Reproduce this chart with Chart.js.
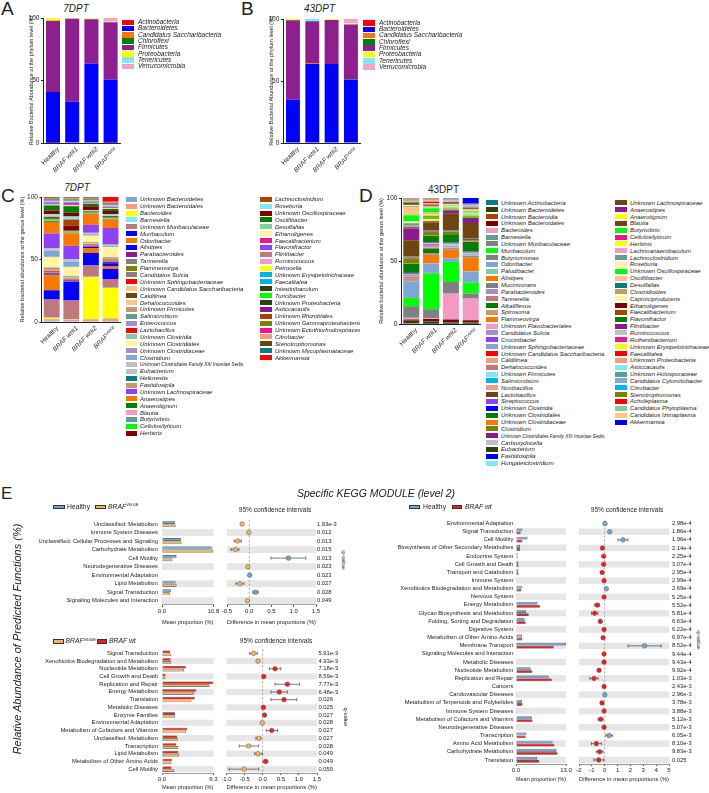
<!DOCTYPE html>
<html><head><meta charset="utf-8">
<script src="https://cdn.jsdelivr.net/npm/chart.js@4.4.1/dist/chart.umd.min.js"></script>
<style>
html,body{margin:0;padding:0;background:#fff;}
body{width:709px;height:793px;position:relative;overflow:hidden;font-family:"Liberation Sans",Arial,sans-serif;color:#222;}
.sup{font-size:0.6em;position:relative;top:-0.55em;}
</style></head><body>
<script>
// ---------------- DATA ----------------
const groups = ["Healthy","BRAF wt#1","BRAF wt#2","BRAF V600E"];
const yTicks = [0,50,100];

const phyla = ["Actinobacteria","Bacteroidetes","Candidatus Saccharibacteria","Chloroflexi","Firmicutes","Proteobacteria","Tenericutes","Verrucomicrobia"];
const a7Healthy = [0.3,40.5,0,0,57,2,0.2,0];
const a7Wt1 = [0,33,0,0,66.4,0.3,0.3,0];
const a7Wt2 = [0,63.5,0,0,35.5,0.6,0.2,0.2];
const a7Mut = [0.3,50.3,0,0,46,0.7,0,2.7];
const b43Healthy = [0,35,0,0,64,1,0,0];
const b43Wt1 = [0,63.8,0.7,0,33.7,0,1.8,0];
const b43Wt2 = [0,63.8,0,0,35.3,0.7,0.2,0];
const b43Mut = [0,51,0,0.5,44,0.7,0.3,3.5];

const c7Genera = ["Unknown Bacteroidetes","Unknown Bacteroidales","Bacteroides","Barnesiella","Unknown Muribaculaceae","Muribaculum","Odoribacter","Alistipes","Parabacteroides","Tannerella","Flammeovirga","Candidatus Sulcia","Unknown Sphingobacteriaceae","Unknown Candidatus Saccharibacteria","Caldilinea","Dehalococcoides","Unknown Firmicutes","Salimicrobium","Enterococcus","Lactobacillus","Unknown Clostridia","Unknown Clostridiales","Unknown Clostridiaceae","Clostridium","Unknown Clostridiales Family XIII Incertae Sedis","Eubacterium","Heliorestis","Fastidiosipila","Unknown Lachnospiraceae","Anaerostipes","Anaerotignum","Blautia","Butyrivibrio","Cellulosilyticum","Herbinix","Lachnoclostridium","Roseburia","Unknown Oscillospiraceae","Oscillibacter","Desulfallas","Ethanoligenes","Faecalibacterium","Flavonifractor","Flintibacter","Ruminococcus","Petrocella","Unknown Erysipelotrichaceae","Faecalitalea","Intestinibaculum","Turicibacter","Unknown Proteobacteria","Asticcacaulis","Unknown Rhizobiales","Unknown Gammaproteobacteria","Unknown Ectothiorhodospiraceae","Citrobacter","Stenotrophomonas","Unknown Mycoplasmataceae","Akkermansia"];
const c7Healthy = [1.3,1,1,0.3,14.4,7.5,12,0.5,1,0.3,0.2,0.3,0.8,0.3,0.2,0.5,0.3,0.5,0.3,0.3,0.8,8,0.5,4.5,1.5,0.5,0.2,0.3,11.5,9.3,0.6,0.3,0.3,1,0.5,1.5,2,3,4,0.3,0.5,0.5,1,0.5,0.5,0.3,0.3,0.3,0.2,0.2,0.3,0.2,0.2,0.2,0.2,0.3,0.5,0.2,0];
const c7Wt1 = [0.8,1,0.3,0.2,15,14.7,0.3,0.3,0.8,0.3,0.2,0.2,0.3,0.2,0.5,0.3,0.5,0.3,0.3,0.2,0.3,7,0.5,4,1,0.5,0.2,0.3,10.5,10,0.5,0.5,0.5,0.5,4,5,2.5,3,5.2,0.3,0.5,0.8,1.2,0.5,0.5,0.3,0.3,0.3,0.2,0.3,0.2,0.2,0.2,0.2,0.2,0.3,0.5,0.2,0.1];
const c7Wt2 = [0.8,1.5,33.6,0.3,9,10,4,1,0.5,0.3,0.2,0.3,0.5,0.3,0.2,0.3,0.3,0.3,0.2,0.2,0.3,5,0.3,0.8,0.5,0.3,0.2,0.2,6.5,8.5,0.3,0.3,0.3,0.3,0.5,0.5,1,3,2,0.3,0.3,0.5,0.5,0.3,0.3,0.3,0.3,0.3,0.2,0.2,0.2,0.2,0.2,0.2,0.2,0.2,0.3,0.2,0.2];
const c7Mut = [0.8,2,24.4,0.3,7,8,2,2.5,1,0.5,0.3,0.3,0.3,0.3,0.3,0.5,0.5,0.3,0.2,0.2,0.3,8,0.3,0.8,0.5,0.3,0.2,0.2,13,6.5,0.5,0.3,0.3,0.5,0.5,1,1.5,2.5,1.5,0.3,0.3,0.5,0.5,0.5,0.5,0.3,0.3,0.3,0.2,0.2,0.3,0.2,0.2,0.2,0.3,0.3,0.5,0.2,3.5];

const d43Genera = ["Unknown Actinobacteria","Unknown Bacteroidetes","Unknown Bacteroidia","Unknown Bacteroidales","Bacteroides","Barnesiella","Unknown Muribaculaceae","Muribaculum","Butyricimonas","Odoribacter","Paludibacter","Alistipes","Mucinivorans","Parabacteroides","Tannerella","Alkaliflexus","Spirosoma","Flammeovirga","Unknown Flavobacteriales","Candidatus Sulcia","Crocinibacter","Unknown Sphingobacteriaceae","Unknown Candidatus Saccharibacteria","Caldilinea","Dehalococcoides","Unknown Firmicutes","Salimicrobium","Novibacillus","Lactobacillus","Streptococcus","Unknown Clostridia","Unknown Clostridiales","Unknown Clostridiaceae","Clostridium","Unknown Clostridiales Family XIII Incertae Sedis","Carboxydocella","Eubacterium","Fastidiosipila","Hungateiclostridium","Unknown Lachnospiraceae","Anaerostipes","Anaerotignum","Blautia","Butyrivibrio","Cellulosilyticum","Herbinix","Lachnoanaerobaculum","Lachnoclostridium","Roseburia","Unknown Oscillospiraceae","Oscillibacter","Desulfallas","Clostridioides","Caproiciproducens","Ethanoligenes","Faecalibacterium","Flavonifractor","Flintibacter","Ruminococcus","Ruthenibacterium","Unknown Erysipelotrichaceae","Faecalitalea","Unknown Proteobacteria","Asticcacaulis","Unknown Holosporaceae","Candidatus Cytomitobacter","Citrobacter","Stenotrophomonas","Acholeplasma","Candidatus Phytoplasma","Candidatus Izimaplasma","Akkermansia"];
const d43Healthy = [0.3,2,0.3,1,1,0.5,9,6.5,0.3,13,0.3,0.5,0.3,1,0.8,0.3,0.2,0.2,0.2,0.2,0.2,0.2,0.3,0.2,0.2,0.3,0.2,0.2,0.2,0.2,0.5,7.3,0.3,4,0.3,0.2,0.3,0.2,0.2,13,9.5,0.3,0.5,0.3,0.3,0.3,0.3,2,1.5,5,6.5,0.2,0.3,1,0.3,0.5,1,0.5,0.3,0.3,0.3,0.3,0.2,0.2,0.2,0.2,0.2,0.3,0.2,0.2,0.2,0.2];
const d43Wt1 = [0.2,1.5,0.3,2,0.5,0.3,7,28.5,0.3,7.5,0.2,6.5,0.3,0.5,0.3,4,0.2,0.5,0.5,0.5,0.8,0.3,0.3,0.2,0.3,0.3,0.2,0.2,0.3,0.2,0.3,5,0.5,2.5,0.5,0.2,0.2,0.2,0.2,6.3,1,1.5,0.5,1.5,0.8,1.5,0.5,0.5,0.5,3,0.8,0.2,0.3,0.3,0.3,0.3,0.5,0.3,0.3,0.3,0.5,1,1,0.3,0.2,0.2,0.2,0.2,0.3,0.2,0.2,0.2];
const d43Wt2 = [0.2,1,0.3,2,20.5,0.3,9,16,0.3,2.5,0.2,6.5,0.3,0.5,0.3,0.5,0.2,0.2,0.3,0.2,0.2,0.3,0.2,0.2,0.2,1,0.3,0.2,0.3,0.2,0.3,6.5,0.3,1.7,0.3,0.2,0.2,0.2,0.2,13.5,2.5,0.3,0.5,0.5,0.3,0.3,0.3,0.3,0.5,0.5,0.5,0.2,0.2,0.5,0.3,0.3,0.5,0.5,0.2,0.2,0.2,0.2,0.2,0.2,0.2,0.5,0.2,0.2,0.2,0.2,0.2,0.3];
const d43Mut = [0.2,1,0.3,1.5,17,0.3,4,8.5,0.2,8.7,0.2,10.5,0.3,0.3,0.2,0.3,0.2,0.2,0.3,0.2,0.2,0.3,0.2,0.2,0.2,0.8,0.3,0.2,0.3,0.2,0.3,7.5,0.3,0.5,0.3,0.2,0.8,0.2,0.2,12.5,4,0.3,0.5,1,0.3,0.5,0.3,0.5,0.8,1,1,0.2,0.3,0.5,0.3,0.3,0.3,0.3,0.5,0.2,0.2,0.2,0.2,0.2,0.2,0.3,0.2,0.2,0.2,0.2,0.2,4.5];

// KEGG level-2 comparisons
const e1Labels = ["Unclassified: Metabolism","Immune System Diseases","Unclassified: Cellular Processes and Signaling","Carbohydrate Metabolism","Cell Motility","Neurodegenerative Diseases","Environmental Adaptation","Lipid Metabolism","Signal Transduction","Signaling Molecules and Interaction"];
const e1Healthy = [2.7,0.1,3.95,10.4,3.05,0.1,0.1,2.85,1.9,0.05];
const e1Mut = [2.85,0.1,4.1,10.7,2.2,0.1,0.1,3.05,1.65,0.05];
const e1Diff = [-0.16,-0.01,-0.26,-0.31,0.88,-0.03,0.01,-0.21,0.14,-0.04];
const e1Lo = [-0.19,-0.02,-0.34,-0.41,0.49,-0.04,0.0,-0.30,0.08,-0.05];
const e1Hi = [-0.13,0.0,-0.18,-0.23,1.27,-0.02,0.02,-0.12,0.20,-0.03];
const e1Q = ["1.93e-3","0.012","0.013","0.015","0.013","0.023","0.023","0.027","0.028","0.049"];
const e1MeanMax = 10.8;
const e1DiffTicks = [-0.5,0,0.5,1,1.5];

const e2Labels = ["Signal Transduction","Xenobiotics Biodegradation and Metabolism","Nucleotide Metabolism","Cell Growth and Death","Replication and Repair","Energy Metabolism","Translation","Metabolic Diseases","Enzyme Families","Environmental Adaptation","Metabolism of Cofactors and Vitamins","Unclassified: Metabolism","Transcription","Lipid Metabolism","Metabolism of Other Amino Acids","Cell Motility"];
const e2Wt = [1.45,1.55,4.3,0.64,9.25,6.2,5.9,0.1,2.38,0.1,4.55,2.72,2.55,2.95,1.78,1.7];
const e2Mut = [1.7,1.68,3.95,0.61,8.6,5.74,5.3,0.1,2.33,0.1,4.3,2.83,2.95,3.08,1.7,2.2];
const e2Diff = [-0.25,-0.13,0.34,0.03,0.68,0.46,0.59,0.02,0.05,-0.01,0.25,-0.11,-0.39,-0.13,0.08,-0.51];
const e2Lo = [-0.36,-0.16,0.19,0.01,0.34,0.23,0.23,0.01,0.03,-0.02,0.10,-0.19,-0.65,-0.22,0.01,-0.93];
const e2Hi = [-0.15,-0.10,0.50,0.05,1.02,0.68,0.94,0.03,0.07,0.0,0.41,-0.05,-0.11,-0.01,0.14,-0.11];
const e2Q = ["5.91e-3","4.93e-3","7.18e-3","8.59e-3","7.77e-3","6.48e-3","0.026","0.025","0.027","0.028","0.027","0.027","0.028","0.049","0.049","0.050"];
const e2MeanMax = 9.3;
const e2DiffTicks = [-1,-0.5,0,0.5,1,1.5];

const e3Labels = ["Environmental Adaptation","Signal Transduction","Cell Motility","Biosynthesis of Other Secondary Metabolites","Endocrine System","Cell Growth and Death","Transport and Catabolism","Immune System","Xenobiotics Biodegradation and Metabolism","Nervous System","Energy Metabolism","Glycan Biosynthesis and Metabolism","Folding, Sorting and Degradation","Digestive System","Metabolism of Other Amino Acids","Membrane Transport","Signaling Molecules and Interaction","Metabolic Diseases","Nucleotide Metabolism","Replication and Repair","Cancers","Cardiovascular Diseases","Metabolism of Terpenoids and Polyketides","Immune System Diseases","Metabolism of Cofactors and Vitamins","Neurodegenerative Diseases","Transcription","Amino Acid Metabolism","Carbohydrate Metabolism","Translation"];
const e3Healthy = [0.1,1.65,3.0,1.05,0.4,0.6,0.6,0.15,1.65,0.15,5.6,2.6,2.25,0.1,1.55,13.0,0.2,0.15,3.8,8.5,0.1,0.05,1.55,0.05,4.1,0.1,2.75,9.5,10.55,5.45];
const e3Wt = [0.1,1.2,1.65,1.1,0.4,0.65,0.65,0.15,1.3,0.15,6.2,3.3,2.5,0.1,1.55,9.8,0.2,0.15,4.25,9.3,0.1,0.05,1.7,0.05,4.3,0.1,2.5,10.0,10.8,6.0];
const e3Diff = [0.02,0.39,1.42,-0.18,-0.08,-0.08,-0.2,-0.05,0.13,-0.05,-0.57,-0.78,-0.34,-0.05,-0.13,3.1,-0.05,-0.05,-0.44,-0.83,-0.05,0.01,-0.21,-0.05,-0.31,-0.05,0.34,-0.65,-0.39,-0.47];
const e3Lo = [0.01,0.33,1.03,-0.21,-0.10,-0.11,-0.24,-0.06,0.09,-0.06,-0.78,-1.03,-0.42,-0.06,-0.17,1.81,-0.06,-0.06,-0.55,-1.16,-0.06,0.0,-0.25,-0.06,-0.52,-0.06,0.08,-1.03,-0.65,-0.85];
const e3Hi = [0.03,0.45,1.81,-0.15,-0.06,-0.05,-0.16,-0.04,0.17,-0.04,-0.39,-0.52,-0.26,-0.04,-0.09,4.39,-0.04,-0.04,-0.33,-0.52,-0.04,0.02,-0.17,-0.04,-0.13,-0.04,0.59,-0.26,-0.13,-0.08];
const e3Q = ["2.98e-4","1.86e-4","1.96e-4","2.14e-4","2.25e-4","3.07e-4","2.95e-4","2.99e-4","2.69e-4","5.25e-4","5.52e-4","5.81e-4","6.63e-4","6.22e-4","6.97e-4","8.52e-4","9.44e-4","9.43e-4","9.92e-4","1.03e-3","2.43e-3","2.96e-3","3.78e-3","3.88e-3","5.12e-3","5.07e-3","6.05e-3","8.10e-3","9.83e-3","0.025"];
const e3MeanMax = 13.0;
const e3DiffTicks = [-2,-1,0,1,2,3,4,5];

// ---------------- STYLES ----------------
const LB="#7FA6DA",SAL="#F79B7E",YEL="#FFFF00",CY="#7EEAF2",ROSE="#C0787E",BLU="#0000FF",ORA="#F87800",PUR="#8B1A8B",GRY="#808080",OLV="#808000",RED="#FF0000",PCH="#FFC58A",BRN="#6E4511",TAN="#C49A6C",TEG="#5E9E97",LAV="#A98BC6",LGN="#80CFA0",LYL="#FFF59A",LGY="#C0C0C0",TEA="#008080",VIO="#9040F5",GRN="#007F00",PNK="#F49AC2",BGN="#00FF00",DRD="#800000",RBR="#A94300",MAG="#F0148C",SKY="#00B0F0",DOL="#2E4010";
const phylaColors = ["#FF0000","#0000FF","#F87800","#007F00","#8E1F8E","#FFFF00","#80E8F2","#F5A3C7"];
const c7Colors = [LB,SAL,YEL,CY,ROSE,BLU,ORA,BLU,PUR,GRY,OLV,GRY,RED,PCH,BRN,PCH,TAN,TEG,LAV,RED,LGN,LYL,LAV,LB,LGY,LGY,TEA,TAN,VIO,ORA,GRN,PNK,TEG,BGN,DRD,RBR,CY,DRD,GRN,LGN,LYL,MAG,VIO,ROSE,PNK,YEL,SKY,SKY,DOL,BGN,DOL,PUR,RBR,OLV,MAG,SAL,BRN,TEA,RED];
const d43Colors = [TEA,DOL,RBR,DRD,PNK,TEG,GRY,BGN,GRY,LB,LGN,ORA,GRY,LAV,ROSE,GRN,TAN,ORA,PNK,LAV,VIO,LB,RED,SAL,ROSE,CY,SKY,SAL,BRN,VIO,BLU,GRN,ORA,OLV,PUR,LGY,DOL,BLU,CY,BRN,PUR,YEL,BRN,BGN,MAG,YEL,PNK,TEG,LYL,BGN,PCH,TEA,TAN,LYL,DRD,RBR,GRN,PUR,LGY,MAG,YEL,RED,SAL,CY,TEG,LB,SKY,OLV,RED,LGN,PCH,BLU];
const cHealthy="#6FA7DA", cMut="#F6B65E", cWt="#F01E1E";

Chart.defaults.font.family='"Liberation Sans", Arial, sans-serif';
Chart.defaults.color='#222';
Chart.defaults.animation=false;
Chart.defaults.plugins.legend.display=false;
Chart.defaults.plugins.tooltip.enabled=false;

// ---------------- HELPERS ----------------
function mkCanvas(l,t,w,h){const c=document.createElement('canvas');c.width=w;c.height=h;c.style.cssText=`position:absolute;left:${l}px;top:${t}px;width:${w}px;height:${h}px`;document.body.appendChild(c);return c;}
const fixW=w=>s=>{s.width=w;s.paddingTop=0;s.paddingBottom=0;s.paddingLeft=0;s.paddingRight=0;};
const fixH=h=>s=>{s.height=h;s.paddingTop=0;s.paddingBottom=0;s.paddingLeft=0;s.paddingRight=0;};
function txt(html,x,y,size,o={}){
  const d=document.createElement('div');d.innerHTML=html;
  const st=d.style;st.position='absolute';st.fontSize=size+'px';st.lineHeight='1';st.whiteSpace='nowrap';
  if(o.italic)st.fontStyle='italic';if(o.color)st.color=o.color;
  let tr='';
  if(o.rot){st.left=x+'px';st.top=y+'px';tr=`translate(-50%,-50%) rotate(${o.rot}deg)`;}
  else{st.top=(y-0.5*size)+'px';
    if(o.align==='center'){st.left=x+'px';tr='translateX(-50%)';}
    else if(o.align==='right'){st.right=(709-x)+'px';}
    else st.left=x+'px';}
  st.transform=tr;(o.parent||document.body).appendChild(d);return d;}
function groupLabel(g){
  if(g==='Healthy')return 'Healthy';
  if(g.indexOf('wt')>=0)return '<i>'+g+'</i>';
  const p=g.split(' ');return '<i>'+p[0]+'</i><span class="sup"><i>'+p[1]+'</i></span>';}
function swatch(x,y,w,h,color,border,parent){const s=document.createElement('div');s.style.cssText=`position:absolute;left:${x}px;top:${y-h/2}px;width:${w}px;height:${h}px;background:${color};box-sizing:border-box;${border?'border:0.7px solid #333;':''}`;(parent||document.body).appendChild(s);}
function legend(names,colors,from,to,sx,tx,y0,dy,size,sw,sh,parent){
  for(let i=from;i<to;i++){const y=y0+(i-from)*dy;swatch(sx,y,sw,sh,colors[i],false,parent);
    const t=txt(names[i],tx,y,size,{italic:true,parent});
    if(names[i].length>40){t.style.transform='scaleX(0.8)';t.style.transformOrigin='0 50%';}}}

function stacked(g){
  const cv=mkCanvas(g.l,g.t,g.w,g.h);
  const datasets=g.names.map((n,k)=>({label:n,data:g.bars.map(b=>b[k]),backgroundColor:g.colors[k],borderWidth:0,barPercentage:g.barPct,categoryPercentage:1}));
  const ch=new Chart(cv,{type:'bar',data:{labels:groups,datasets},options:{responsive:false,
    layout:{padding:{left:0,right:g.padR,top:g.padT,bottom:g.padB}},
    scales:{
      x:{stacked:true,ticks:{display:false},grid:{drawOnChartArea:false,drawTicks:false},border:{color:'#222',width:1},afterFit:fixH(0)},
      y:{stacked:true,min:0,max:100,afterBuildTicks:s=>{s.ticks=yTicks.map(v=>({value:v}));},
        ticks:{font:{size:6.5},padding:1.5,color:'#222'},
        grid:{drawOnChartArea:false,drawTicks:true,tickLength:2.5,color:'#222'},border:{color:'#222',width:1},
        title:{display:true,text:g.yTitle,font:{size:5.5},padding:{top:g.titlePad,bottom:0},color:'#222'},
        afterFit:fixW(g.yW)}
    }}});
  const xs=ch.scales.x,y=g.t+ch.chartArea.bottom+3;
  groups.forEach((gn,i)=>{const px=g.l+xs.getPixelForValue(i)+3;const d=document.createElement('div');d.innerHTML=groupLabel(gn);
    d.style.cssText=`position:absolute;right:${709-px}px;top:${y}px;font-size:6.5px;line-height:1;white-space:nowrap;transform-origin:100% 0;transform:rotate(-45deg)`;document.body.appendChild(d);});
  return ch;}

function makeBands(n,frac){return{id:'bands',beforeDatasetsDraw(chart){const a=chart.chartArea,ys=chart.scales.y,ctx=chart.ctx;
  const step=Math.abs(ys.getPixelForValue(1)-ys.getPixelForValue(0));ctx.save();ctx.fillStyle='#E6E6E6';
  for(let i=1;i<n;i+=2){const c=ys.getPixelForValue(i);ctx.fillRect(a.left,c-step*frac/2,a.right-a.left,step*frac);}ctx.restore();}};}
function makeCI(lo,hi){return{id:'ci',beforeDatasetsDraw(chart){const {ctx,chartArea:a}=chart,xs=chart.scales.x,ys=chart.scales.y;
  ctx.save();const x0=xs.getPixelForValue(0);ctx.strokeStyle='#8a8a8a';ctx.lineWidth=0.7;ctx.setLineDash([2,2]);
  ctx.beginPath();ctx.moveTo(x0,a.top);ctx.lineTo(x0,a.bottom);ctx.stroke();ctx.setLineDash([]);
  ctx.strokeStyle='#444';ctx.lineWidth=0.7;
  lo.forEach((l,i)=>{const x1=xs.getPixelForValue(l),x2=xs.getPixelForValue(hi[i]),y=ys.getPixelForValue(i);
    ctx.beginPath();ctx.moveTo(x1,y);ctx.lineTo(x2,y);ctx.moveTo(x1,y-1.6);ctx.lineTo(x1,y+1.6);ctx.moveTo(x2,y-1.6);ctx.lineTo(x2,y+1.6);ctx.stroke();});
  ctx.restore();}};}

function eBars(g){
  const cv=mkCanvas(g.l,g.t,g.w,g.h);
  const ds=[{data:g.a,backgroundColor:g.colors[0]},{data:g.b,backgroundColor:g.colors[1]}].map(d=>Object.assign(d,{borderColor:'#333',borderWidth:0.6,borderSkipped:false,barPercentage:0.92,categoryPercentage:0.74}));
  return new Chart(cv,{type:'bar',data:{labels:g.labels,datasets:ds},options:{indexAxis:'y',responsive:false,
    layout:{padding:{left:0,right:g.padR,top:g.padT,bottom:g.padB}},
    scales:{
      y:{type:'category',ticks:{autoSkip:false,font:{size:5.8},padding:g.labPad,color:'#222'},grid:{display:false,drawTicks:false},border:{display:false},afterFit:fixW(g.yW)},
      x:{type:'linear',min:0,max:g.max,afterBuildTicks:s=>{s.ticks=[{value:0},{value:g.max}];},
        ticks:{callback:v=>Number(v).toFixed(1),font:{size:6},padding:1,color:'#222',maxRotation:0,autoSkip:false},
        grid:{drawOnChartArea:false,drawTicks:true,tickLength:2,color:'#555'},border:{color:'#555',width:0.6},
        title:{display:true,text:'Mean proportion (%)',font:{size:6},padding:0,color:'#222'},afterFit:fixH(g.axisH)}
    }},plugins:[makeBands(g.labels.length,0.8)]});}

function eCI(g){
  const n=g.diff.length,cv=mkCanvas(g.l,g.t,g.w,g.h);
  return new Chart(cv,{type:'scatter',data:{datasets:[{data:g.diff.map((d,i)=>({x:d,y:i})),pointRadius:2.3,
      pointBackgroundColor:g.diff.map(d=>d>0?g.pos:g.neg),pointBorderColor:'#555',pointBorderWidth:0.5}]},
    options:{responsive:false,layout:{padding:{left:g.padL,right:0,top:g.padT,bottom:g.padB}},
    scales:{
      x:{type:'linear',min:g.min,max:g.max,afterBuildTicks:s=>{s.ticks=g.ticks.map(v=>({value:v}));},
        ticks:{callback:v=>g.dec?Number(v).toFixed(g.dec):String(v),font:{size:6},padding:1,color:'#222',maxRotation:0,autoSkip:false},
        grid:{drawOnChartArea:false,drawTicks:true,tickLength:2,color:'#555'},border:{color:'#555',width:0.6},
        title:{display:true,text:'Difference in mean proportions (%)',font:{size:6},padding:0,color:'#222'},afterFit:fixH(g.axisH)},
      y:{type:'linear',min:-0.5,max:n-0.5,reverse:true,display:false},
      q:{type:'linear',position:'right',min:-0.5,max:n-0.5,reverse:true,afterBuildTicks:s=>{s.ticks=g.q.map((_,i)=>({value:i}));},
        ticks:{callback:(v,i)=>g.q[i],autoSkip:false,font:{size:5.8},padding:g.qPad,color:'#222'},
        grid:{display:false,drawTicks:false},border:{display:false},afterFit:fixW(g.rW)}
    }},plugins:[makeBands(n,0.8),makeCI(g.lo,g.hi)]});}

// ---------------- PANELS A-D ----------------
txt('A',1,8,19);txt('B',241,8,19);txt('C',1,195,19);txt('D',359,195,19);txt('E',1,493,17);
txt('7DPT',76,8.5,10,{italic:true,align:'center'});
txt('43DPT',319.5,8.5,10,{italic:true,align:'center'});
txt('7DPT',77,188,10,{italic:true,align:'center'});
txt('43DPT',443.5,190,10,{align:'center'});

stacked({l:26,t:0,w:100,h:150,padT:18,padB:7,padR:5.8,yW:17.4,titlePad:1.7,barPct:0.73,names:phyla,colors:phylaColors,
  bars:[a7Healthy,a7Wt1,a7Wt2,a7Mut],yTitle:'Relative Bacterial Abundance at the phylum level (%)'});
stacked({l:266,t:0,w:100,h:150,padT:19,padB:7,padR:5.4,yW:17.3,titlePad:1.7,barPct:0.72,names:phyla,colors:phylaColors,
  bars:[b43Healthy,b43Wt1,b43Wt2,b43Mut],yTitle:'Relative Bacterial Abundance at the phylum level (%)'});
stacked({l:18,t:190,w:106,h:135,padT:7,padB:3,padR:3.7,yW:23.9,titlePad:0.7,barPct:0.81,names:c7Genera,colors:c7Colors,
  bars:[c7Healthy,c7Wt1,c7Wt2,c7Mut],yTitle:'Relative bacterial abundance at the genus level (%)'});
stacked({l:377,t:190,w:106,h:137,padT:8,padB:3,padR:2.4,yW:24.4,titlePad:0.7,barPct:0.81,names:d43Genera,colors:d43Colors,
  bars:[d43Healthy,d43Wt1,d43Wt2,d43Mut],yTitle:'Relative bacterial abundance at the genus level (%)'});

legend(phyla,phylaColors,0,8,122,138,22.3,6.3,6.5,12,5.5);
legend(phyla,phylaColors,0,8,363,379,23,6.3,6.5,12,5.5);
const clipC=document.createElement('div');clipC.style.cssText='position:absolute;left:0;top:0;width:360px;height:793px;overflow:hidden';document.body.appendChild(clipC);
legend(c7Genera,c7Colors,0,35,126,140,199.3,6.88,6,11,5,clipC);
legend(c7Genera,c7Colors,35,59,260,275,199.3,6.88,6,12,5,clipC);
legend(d43Genera,d43Colors,0,39,486,501,202.8,6.85,6,12,5);
legend(d43Genera,d43Colors,39,72,615,630,202.8,6.85,6,12,5);

// ---------------- PANEL E ----------------
txt('Specific KEGG MODULE (level 2)',376,493,10.5,{italic:true,align:'center'});
txt('Relative Abundance of Predicted Functions (%)',17,639,11,{italic:true,rot:-90});
const mutLbl='<i>BRAF</i><span class="sup">V600E</span>';
// E1 legend
swatch(53,507,11.5,4.5,cHealthy,true);txt('Healthy',67,507,6.8);
swatch(94.5,507,11,4.5,cMut,true);txt(mutLbl,108,507,6.8);
txt('95% confidence intervals',275,510,6.5,{align:'center'});
// E2 legend
swatch(53,641.7,10.5,4.5,cMut,true);txt(mutLbl,65.5,641.7,6.8);
swatch(96.7,641.7,10,4.5,cWt,true);txt('<i>BRAF wt</i>',109,641.7,6.8);
txt('95% confidence intervals',276,641.7,6.5,{align:'center'});
// E3 legend
swatch(409,507,11,4.5,cHealthy,true);txt('Healthy',423,507,6.8);
swatch(452,507,10,4.5,cWt,true);txt('<i>BRAF wt</i>',465,507,6.8);
txt('95% confidence intervals',627,510,6.5,{align:'center'});

eBars({l:0,t:515,w:222,h:113,padT:4.74,padB:2,padR:8.5,yW:162,labPad:4,axisH:21,labels:e1Labels,a:e1Healthy,b:e1Mut,colors:[cHealthy,cMut],max:e1MeanMax});
eCI({l:222,t:515,w:128,h:113,padT:4.74,padB:2,padL:5,rW:34,qPad:1,axisH:21,diff:e1Diff,lo:e1Lo,hi:e1Hi,q:e1Q,min:-0.5,max:1.5,ticks:e1DiffTicks,dec:1,pos:cHealthy,neg:cMut});
txt('q-value',343,560,5.8,{rot:90});

eBars({l:0,t:645,w:222,h:146,padT:4.4,padB:0,padR:8.5,yW:162,labPad:4,axisH:18,labels:e2Labels,a:e2Wt,b:e2Mut,colors:[cWt,cMut],max:e2MeanMax});
eCI({l:222,t:645,w:128,h:146,padT:4.4,padB:0,padL:3,rW:33,qPad:1.5,axisH:18,diff:e2Diff,lo:e2Lo,hi:e2Hi,q:e2Q,min:-1,max:1.5,ticks:e2DiffTicks,dec:1,pos:cWt,neg:cMut});
txt('q-value',345,717,5.8,{rot:90});

eBars({l:360,t:515,w:214,h:270,padT:4.2,padB:2.4,padR:8,yW:156,labPad:2.7,axisH:18.6,labels:e3Labels,a:e3Healthy,b:e3Wt,colors:[cHealthy,cWt],max:e3MeanMax});
eCI({l:574,t:515,w:134,h:270,padT:4.2,padB:2.4,padL:5,rW:39,qPad:3,axisH:18.6,diff:e3Diff,lo:e3Lo,hi:e3Hi,q:e3Q,min:-2,max:5,ticks:e3DiffTicks,dec:0,pos:cHealthy,neg:cWt});
txt('q-value',698,640,5.8,{rot:90});
</script>
</body></html>
